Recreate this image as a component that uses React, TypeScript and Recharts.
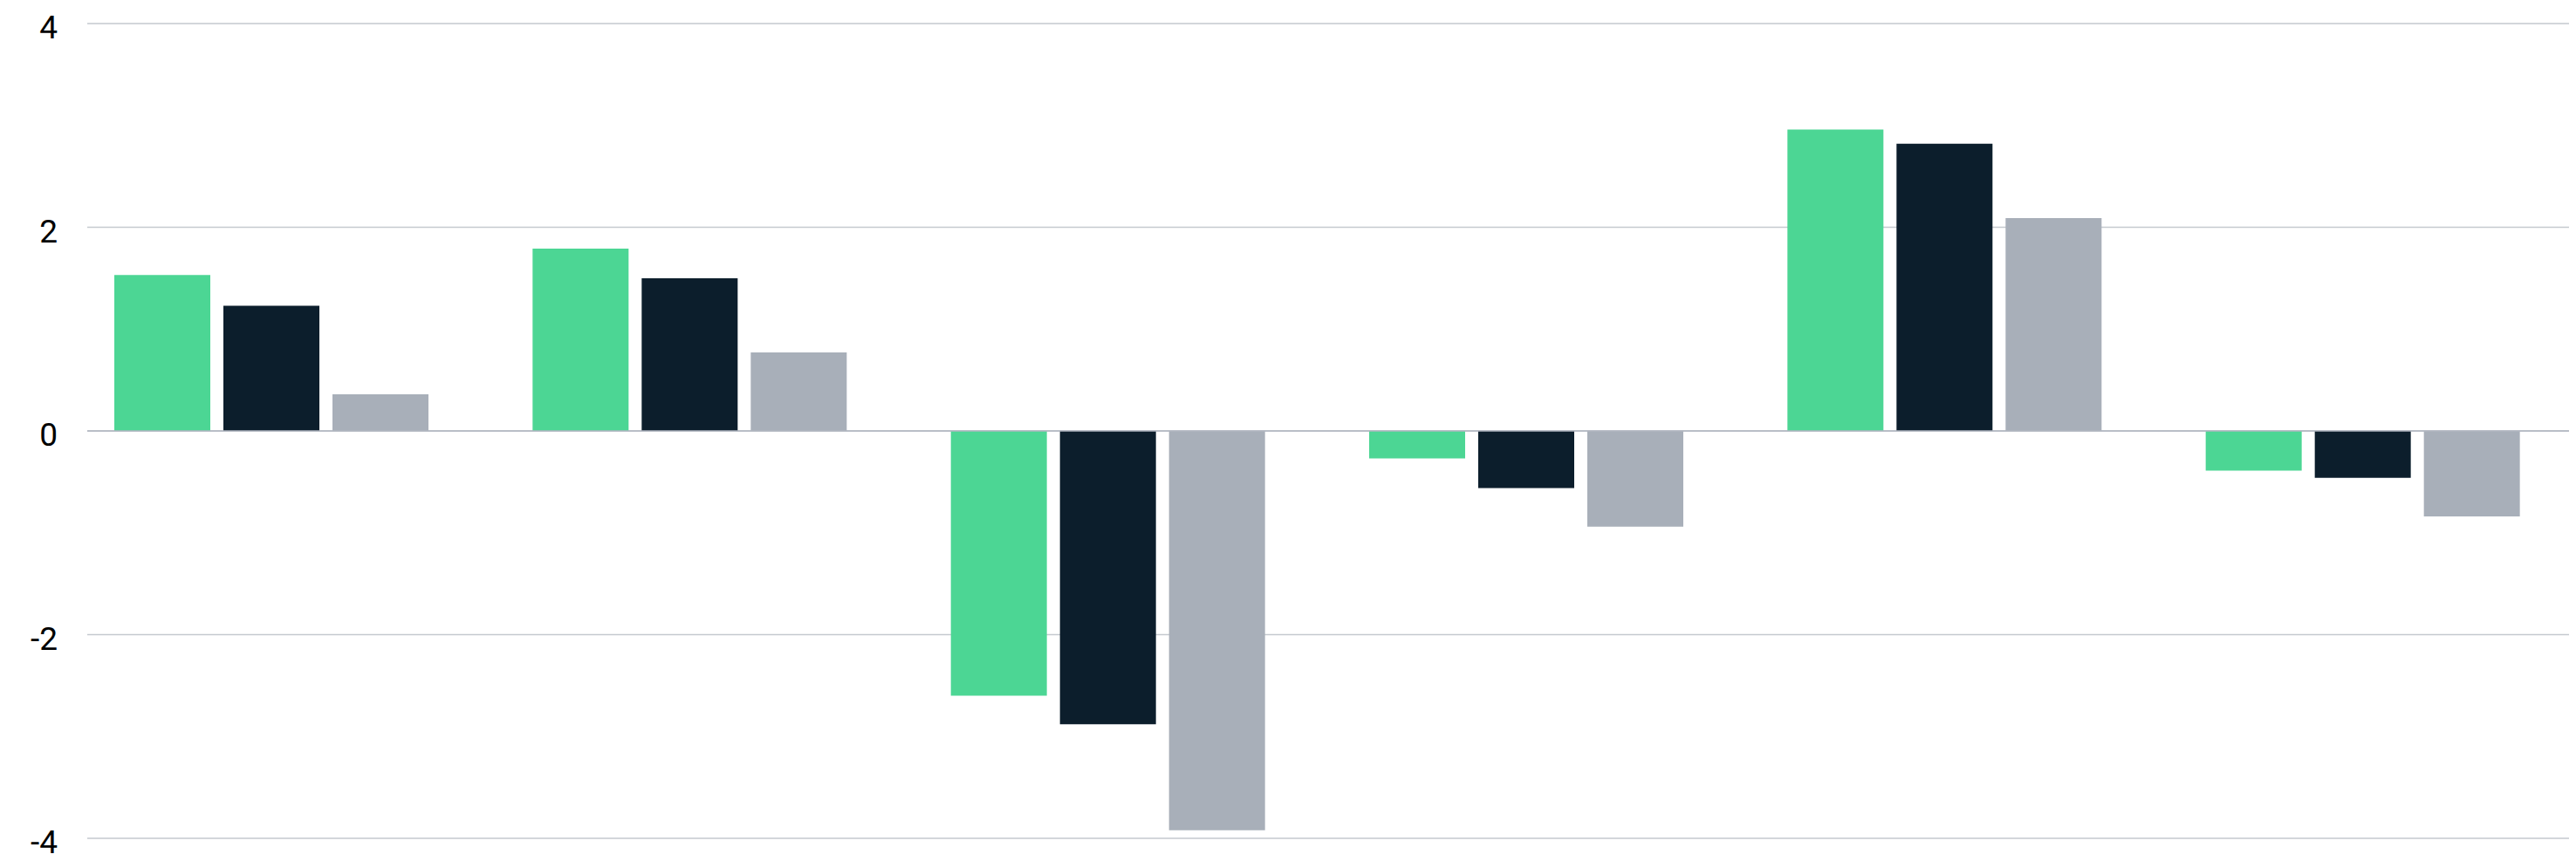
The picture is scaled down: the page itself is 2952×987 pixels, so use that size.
import { Bar, BarChart, CartesianGrid, ReferenceLine, XAxis, YAxis } from 'recharts';

const categories = ['G1', 'G2', 'G3', 'G4', 'G5', 'G6'];
const seriesA = [1.53, 1.79, -2.6, -0.27, 2.96, -0.39];
const seriesB = [1.23, 1.5, -2.88, -0.56, 2.82, -0.46];
const seriesC = [0.36, 0.77, -3.92, -0.94, 2.09, -0.84];
const yTicks = [-4, -2, 0, 2, 4];

const data = categories.map((name, i) => ({
  name,
  a: seriesA[i],
  b: seriesB[i],
  c: seriesC[i],
}));

// grid lines start a bit right of the plot edge
const GRID_INSET = 29;

const gridLine = (props: any) => (
  <line
    key={props.key ?? `h-${props.y1}`}
    x1={props.x1 + GRID_INSET}
    x2={props.x2}
    y1={props.y1}
    y2={props.y2}
    stroke="#c5c9cf"
    strokeWidth={1.3}
  />
);

const zeroLine = (props: any) => (
  <line
    x1={props.x1 + GRID_INSET}
    x2={props.x2}
    y1={props.y1}
    y2={props.y2}
    stroke="#b0b6c0"
    strokeWidth={1.3}
  />
);

export default function App() {
  // cancel the body's top margin so the svg can use the full page height
  return (
    <div style={{ marginTop: -8 }}>
      <BarChart
        width={2939}
        height={987}
        data={data}
        margin={{ top: 27, right: 0, bottom: 26, left: 0 }}
        barSize={110}
        barGap={15}
      >
        <CartesianGrid vertical={false} horizontal={gridLine} />
        <XAxis dataKey="name" hide />
        <YAxis
          width={63}
          domain={[-4, 4]}
          ticks={yTicks}
          interval={0}
          tickLine={false}
          axisLine={false}
          tickSize={0}
          tickMargin={5}
          tick={{ fill: '#000', fontSize: 37, fontFamily: 'Roboto', dy: 4 }}
        />
        <Bar dataKey="a" fill="#4cd694" isAnimationActive={false} />
        <Bar dataKey="b" fill="#0c1e2c" isAnimationActive={false} />
        <Bar dataKey="c" fill="#a8afb9" isAnimationActive={false} />
        <ReferenceLine y={0} shape={zeroLine} />
      </BarChart>
    </div>
  );
}
